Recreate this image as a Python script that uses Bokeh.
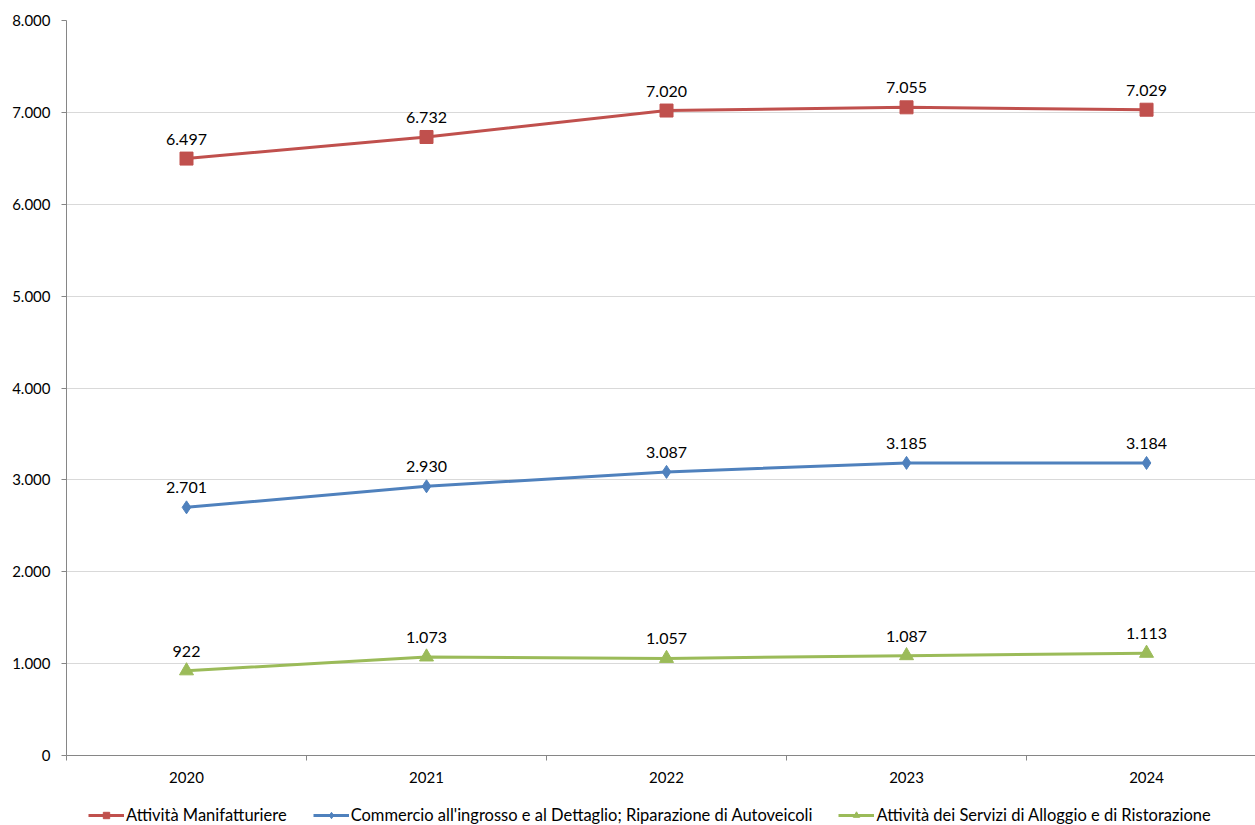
from bokeh.plotting import figure
from bokeh.layouts import column
from bokeh.models import (ColumnDataSource, FixedTicker, CustomJSTickFormatter, Legend, LegendItem, Range1d)
from bokeh.core.properties import value
from bokeh.embed import file_html
from bokeh.resources import INLINE

years = ["2020", "2021", "2022", "2023", "2024"]
manifatturiere = [6497, 6732, 7020, 7055, 7029]
commercio = [2701, 2930, 3087, 3185, 3184]
alloggio = [922, 1073, 1057, 1087, 1113]
names = ["Attività Manifatturiere",
         "Commercio all'ingrosso e al Dettaglio; Riparazione di Autoveicoli",
         "Attività dei Servizi di Alloggio e di Ristorazione"]
colors = ["#C0504D", "#4F81BD", "#9BBB59"]
y_ticks = [0, 1000, 2000, 3000, 4000, 5000, 6000, 7000, 8000]

FONT = "Lato"

def fmt(v):
    return f"{v:,}".replace(",", ".")

p = figure(frame_width=1189, frame_height=735, output_backend="svg", toolbar_location=None,
           x_range=Range1d(-0.5, 4.454), y_range=Range1d(0, 8000),
           min_border_left=66, min_border_right=0, min_border_top=20, min_border_bottom=0)
p.outline_line_color = None
p.background_fill_color = "white"

xs = list(range(len(years)))
p.xaxis.ticker = FixedTicker(ticks=xs, minor_ticks=[-0.5, 0.5, 1.5, 2.5, 3.5, 4.5])
p.xaxis.major_label_overrides = {i: y for i, y in enumerate(years)}
p.xaxis.major_tick_out = 0
p.xaxis.major_tick_in = 0
p.xaxis.minor_tick_out = 5
p.xaxis.minor_tick_in = 0
p.xaxis.minor_tick_line_color = "#868686"
p.xaxis.axis_line_color = "#868686"
p.xaxis.major_label_standoff = 11
p.xaxis.major_label_text_font = FONT
p.xaxis.major_label_text_font_size = "15px"
p.xaxis.major_label_text_color = "#000000"

p.yaxis.ticker = FixedTicker(ticks=y_ticks)
p.yaxis.formatter = CustomJSTickFormatter(code="return tick.toString().replace(/\\B(?=(\\d{3})+(?!\\d))/g, '.');")
p.yaxis.major_tick_out = 5
p.yaxis.major_tick_in = 0
p.yaxis.minor_tick_line_color = None
p.yaxis.axis_line_color = "#868686"
p.yaxis.major_tick_line_color = "#868686"
p.yaxis.major_label_standoff = 11
p.yaxis.major_label_text_font = FONT
p.yaxis.major_label_text_font_size = "15px"
p.yaxis.major_label_text_color = "#000000"

p.xgrid.grid_line_color = None
p.ygrid.grid_line_color = "#D9D9D9"
p.ygrid.ticker = FixedTicker(ticks=y_ticks)

# separate strip for the legend (same series, drawn outside its visible range)
lf = figure(width=1255, height=40, output_backend="svg", toolbar_location=None,
            x_range=Range1d(100, 101), y_range=Range1d(-100000, -99999),
            min_border_left=0, min_border_right=0, min_border_top=0, min_border_bottom=0)
lf.axis.visible = False
lf.grid.visible = False
lf.outline_line_color = None

items = []
series = [(manifatturiere, "square", 13), (commercio, "diamond", 13), (alloggio, "triangle", 14)]
for (vals, marker, size), name, col in zip(series, names, colors):
    src = ColumnDataSource(dict(x=xs, y=vals, lab=[fmt(v) for v in vals]))
    p.line("x", "y", source=src, line_color=col, line_width=3)
    p.scatter("x", "y", source=src, marker=marker, size=size, fill_color=col, line_color=col)
    p.text("x", "y", text="lab", source=src, text_align="center", text_baseline="bottom",
           y_offset=-14, text_font=value(FONT), text_font_size="16px", text_color="#000000")
    l1 = lf.line("x", "y", source=src, line_color=col, line_width=3)
    l2 = lf.scatter("x", "y", source=src, marker=marker, size=size, fill_color=col, line_color=col)
    items.append(LegendItem(label=name, renderers=[l1, l2]))

legend = Legend(items=items, orientation="horizontal", location=(22, 0),
                label_text_font=FONT, label_text_font_size="16.5px", label_text_color="#000000",
                glyph_width=36, glyph_height=16, spacing=26, label_standoff=2, label_height=16,
                border_line_color=None, background_fill_alpha=0, padding=0, margin=0)
lf.add_layout(legend, "center")

layout = column(p, lf, spacing=0)
open("out.html", "w").write(file_html(layout, INLINE))
